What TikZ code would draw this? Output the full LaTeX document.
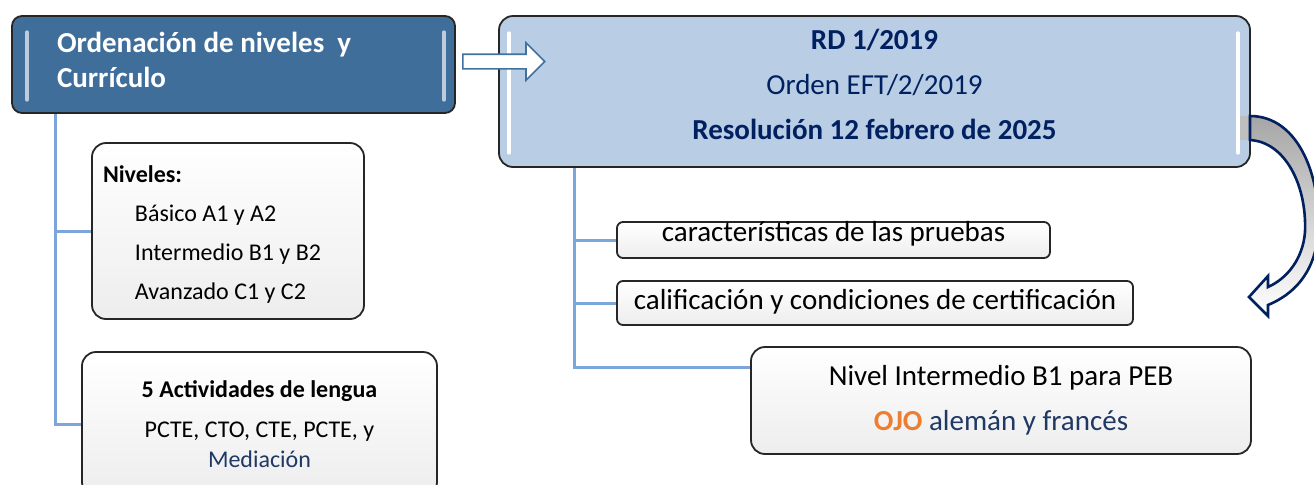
\documentclass[tikz,border=0pt]{standalone}
\usepackage{fontspec}
\setmainfont{Carlito}
\usetikzlibrary{calc,shapes.arrows}
\definecolor{TitleClr}{RGB}{64,110,155}
\definecolor{LightClr}{RGB}{185,205,229}
\definecolor{DarkNavyClr}{RGB}{0,32,96}
\definecolor{NavyClr}{RGB}{31,56,100}
\definecolor{TreeClr}{RGB}{124,166,218}
\definecolor{OrangeClr}{RGB}{237,125,49}
\definecolor{ArrowClr}{RGB}{65,113,156}
\definecolor{CurveClr}{RGB}{0,32,96}

\tikzset{
  box/.style={draw=black!85,line width=0.9pt,rounded corners=7pt,inner sep=0pt},
  whitebox/.style={box,top color=white,bottom color=black!7},
  tree/.style={draw=TreeClr,line width=1.5pt},
  gloss/.style={line width=1.6pt,line cap=round},
  bigfont/.style={font=\fontsize{14.5}{22.5}\selectfont},
  smallfont/.style={font=\fontsize{12}{19.5}\selectfont}
}

\begin{document}
\begin{tikzpicture}[x=0.5pt,y=-0.5pt]
\useasboundingbox (0,0) rectangle (1314,484);

% Top boxes.
\node[box,fill=TitleClr,rounded corners=5pt,minimum width=221.5pt,minimum height=48.5pt,
  text width=176.5pt,align=flush left,text height=10pt,text depth=22.5pt,text=white,
  font=\bfseries\fontsize{14.5}{17.5}\selectfont]
  (title) at (233.5,64.5) {Ordenación de niveles\ \ y\\Currículo};
\node[box,fill=LightClr,minimum width=375.5pt,minimum height=75.5pt,
  text width=360pt,align=flush center,text height=10pt,text depth=52.5pt,text=DarkNavyClr,bigfont]
  (rd) at (874.5,91.5) {\textbf{RD 1/2019}\\Orden EFT/2/2019\\
  \textbf{Resolución 12 febrero de 2025}};

% Glossy edges.
\draw[gloss,draw=white!65!TitleClr] (27,32) -- (27,100) (444,32) -- (444,100);
\draw[gloss,draw=white] (509,33) -- (509,153) (1238,33) -- (1238,153);

% Block arrow between the top boxes.
\node[single arrow,draw=ArrowClr,fill=white,line width=0.8pt,minimum height=41pt,
  inner xsep=0pt,inner ysep=3.25pt,single arrow head extend=5.75pt,anchor=tail]
  (arr) at (462,61.5) {};

% Curved arrow on the right.
\fill[gray!50] (1240,116) rectangle (1251,140);
\path[draw=CurveClr,line width=1.3pt,top color=gray!70,middle color=gray!8,bottom color=white]
  (1250,116) .. controls (1300,116) and (1322,180) .. (1318,235)
  .. controls (1314,275) and (1292,295) .. (1268,305) -- (1268,316) -- (1249,297)
  -- (1268,276) -- (1268,287) .. controls (1288,278) and (1303,258) .. (1305,232)
  .. controls (1307,185) and (1285,142) .. (1250,140) -- cycle;

% Left branch.
\node[whitebox,minimum width=136pt,minimum height=88pt,text width=125pt,align=flush left,
  text height=10pt,text depth=59pt,smallfont]
  (niveles) at (228,231) {\textbf{Niveles:}\\\hspace*{16pt}Básico A1 y A2\\
  \hspace*{16pt}Intermedio B1 y B2\\\hspace*{16pt}Avanzado C1 y C2};
\node[whitebox,minimum width=177.5pt,minimum height=72pt,align=center,
  font=\fontsize{12}{15}\selectfont]
  (act) at (259.5,424) {\textbf{5 Actividades de lengua}\\[5pt]PCTE, CTO, CTE, PCTE, y\\
  \textcolor{NavyClr}{Mediación}};

\draw[tree] ([xshift=22pt]title.south west) |- (niveles.west);
\draw[tree] ([xshift=22pt]title.south west) |- (act.west);

% Right branch.
\node[whitebox,rounded corners=3pt,minimum width=216.5pt,minimum height=18pt,
  text height=8pt,text depth=7pt,bigfont]
  (prue) at (833.5,240) {características de las pruebas};
\node[whitebox,rounded corners=3pt,minimum width=258pt,minimum height=22pt,
  text height=10pt,text depth=4pt,bigfont]
  (calif) at (875,303) {calificación y condiciones de certificación};
\node[whitebox,minimum width=250pt,minimum height=53.5pt,align=center,bigfont]
  (nivel) at (1001,400.5) {Nivel Intermedio B1 para PEB\\
  \textcolor{OrangeClr}{\textbf{OJO}} \textcolor{NavyClr}{alemán y francés}};

\draw[tree] ([xshift=38pt]rd.south west) |- (prue.west);
\draw[tree] ([xshift=38pt]rd.south west) |- (calif.west);
\draw[tree] ([xshift=38pt]rd.south west) |- ($(nivel.north west)!0.2!(nivel.south west)$);

\end{tikzpicture}
\end{document}
